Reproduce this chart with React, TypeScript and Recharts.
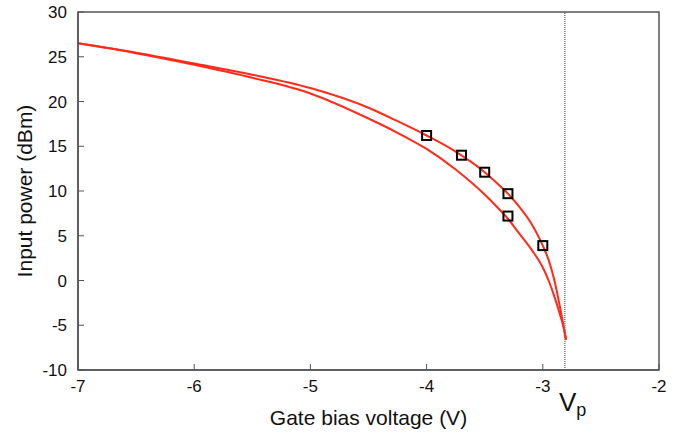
import React from "react";
import {
  ComposedChart,
  Line,
  Scatter,
  XAxis,
  YAxis,
  ReferenceLine,
} from "recharts";

const xTicks = [-7, -6, -5, -4, -3, -2];
const yTicks = [-10, -5, 0, 5, 10, 15, 20, 25, 30];
const pinchOffVoltage = -2.81;

const upperCurveX = [-7, -6.5, -6, -5.5, -5, -4.5, -4.25, -4, -3.75, -3.5, -3.4, -3.3, -3.2, -3.1, -3.0, -2.95, -2.9, -2.85, -2.82, -2.8];
const upperCurveY = [26.5, 25.45, 24.25, 23.0, 21.5, 19.3, 17.8, 16.2, 14.4, 12.1, 10.95, 9.7, 8.2, 6.4, 3.9, 2.3, 0.0, -3.1, -5.2, -6.6];

const lowerCurveX = [-7, -6.5, -6, -5.5, -5, -4.5, -4.25, -4, -3.75, -3.5, -3.4, -3.3, -3.2, -3.1, -3.0, -2.95, -2.9, -2.85, -2.82, -2.8];
const lowerCurveY = [26.5, 25.4, 24.1, 22.65, 20.9, 18.1, 16.5, 14.7, 12.4, 9.6, 8.3, 6.9, 5.2, 3.5, 1.45, 0.0, -1.8, -3.9, -5.3, -6.6];

const measuredX = [-4.0, -3.7, -3.5, -3.3, -3.3, -3.0];
const measuredY = [16.2, 14.0, 12.1, 9.7, 7.2, 3.9];

const upperData = upperCurveX.map((x, i) => ({ x, y: upperCurveY[i] }));
const lowerData = lowerCurveX.map((x, i) => ({ x, y: lowerCurveY[i] }));
const measuredData = measuredX.map((x, i) => ({ x, y: measuredY[i] }));

const FONT = "'Liberation Sans', Arial, sans-serif";
const AXIS = "#555";
const RED = "#ff2a1a";

const CHART_W = 689;
const CHART_H = 435;
const MARGIN = { top: 12, right: 30, left: 0, bottom: 35 };
const Y_AXIS_W = 78;
const X_AXIS_H = 30;

const XTick = (props: any) => {
  const { x, y, payload } = props;
  return (
    <g>
      <line x1={x} x2={x} y1={y} y2={y - 6} stroke={AXIS} strokeWidth={1} />
      <text x={x} y={y + 22} textAnchor="middle" fontSize={17} fontFamily={FONT} fill="#111">
        {payload.value}
      </text>
    </g>
  );
};

const YTick = (props: any) => {
  const { x, y, payload } = props;
  return (
    <g>
      <line x1={x} x2={x + 6} y1={y} y2={y} stroke={AXIS} strokeWidth={1} />
      <text x={x - 11} y={y + 6} textAnchor="end" fontSize={17} fontFamily={FONT} fill="#111">
        {payload.value}
      </text>
    </g>
  );
};

const SquareMarker = (props: any) => {
  const { cx, cy } = props;
  return (
    <rect x={cx - 4.5} y={cy - 4.5} width={9} height={9} fill="none" stroke="#000" strokeWidth={2} />
  );
};

const VpLabel = (props: any) => {
  const { viewBox } = props;
  const x = viewBox.x;
  const bottom = viewBox.y + viewBox.height;
  return (
    <text x={x - 6} y={bottom + 41} fontFamily={FONT} fill="#111">
      <tspan fontSize={26}>V</tspan>
      <tspan fontSize={18} dy={5}>p</tspan>
    </text>
  );
};

export default function App() {
  const plotX = MARGIN.left + Y_AXIS_W;
  const plotY = MARGIN.top;
  const plotW = CHART_W - plotX - MARGIN.right;
  const plotH = CHART_H - MARGIN.top - MARGIN.bottom - X_AXIS_H;
  return (
    <div style={{ position: "absolute", left: 0, top: 0, width: CHART_W, height: CHART_H, background: "#fff" }}>
      <ComposedChart width={CHART_W} height={CHART_H} margin={MARGIN}>
        <XAxis
          type="number"
          dataKey="x"
          domain={[-7, -2]}
          ticks={xTicks}
          allowDataOverflow
          tick={<XTick />}
          tickSize={0}
          tickMargin={0}
          tickLine={false}
          axisLine={{ stroke: AXIS, strokeWidth: 1.5 }}
          height={X_AXIS_H}
          label={{
            value: "Gate bias voltage (V)",
            position: "insideBottom",
            offset: -25,
            fontSize: 21,
            fontFamily: FONT,
            fill: "#111",
          }}
        />
        <YAxis
          type="number"
          dataKey="y"
          domain={[-10, 30]}
          ticks={yTicks}
          allowDataOverflow
          tick={<YTick />}
          tickSize={0}
          tickMargin={0}
          tickLine={false}
          axisLine={{ stroke: AXIS, strokeWidth: 1.5 }}
          width={Y_AXIS_W}
          label={{
            value: "Input power (dBm)",
            angle: -90,
            position: "center",
            dx: -14,
            fontSize: 21,
            fontFamily: FONT,
            fill: "#111",
          }}
        />
        <ReferenceLine
          x={pinchOffVoltage}
          stroke="#333"
          strokeDasharray="1 1"
          strokeWidth={1}
          label={<VpLabel />}
        />
        <Line
          data={upperData}
          dataKey="y"
          type="monotoneX"
          stroke={RED}
          strokeWidth={2}
          dot={false}
          isAnimationActive={false}
        />
        <Line
          data={lowerData}
          dataKey="y"
          type="monotoneX"
          stroke={RED}
          strokeWidth={2}
          dot={false}
          isAnimationActive={false}
        />
        <Scatter
          data={measuredData}
          dataKey="y"
          shape={<SquareMarker />}
          isAnimationActive={false}
        />
      </ComposedChart>
      <svg
        width={CHART_W}
        height={CHART_H}
        style={{ position: "absolute", left: 0, top: 0, pointerEvents: "none" }}
      >
        <rect x={plotX} y={plotY} width={plotW} height={plotH} fill="none" stroke={AXIS} strokeWidth={1.5} />
      </svg>
    </div>
  );
}
